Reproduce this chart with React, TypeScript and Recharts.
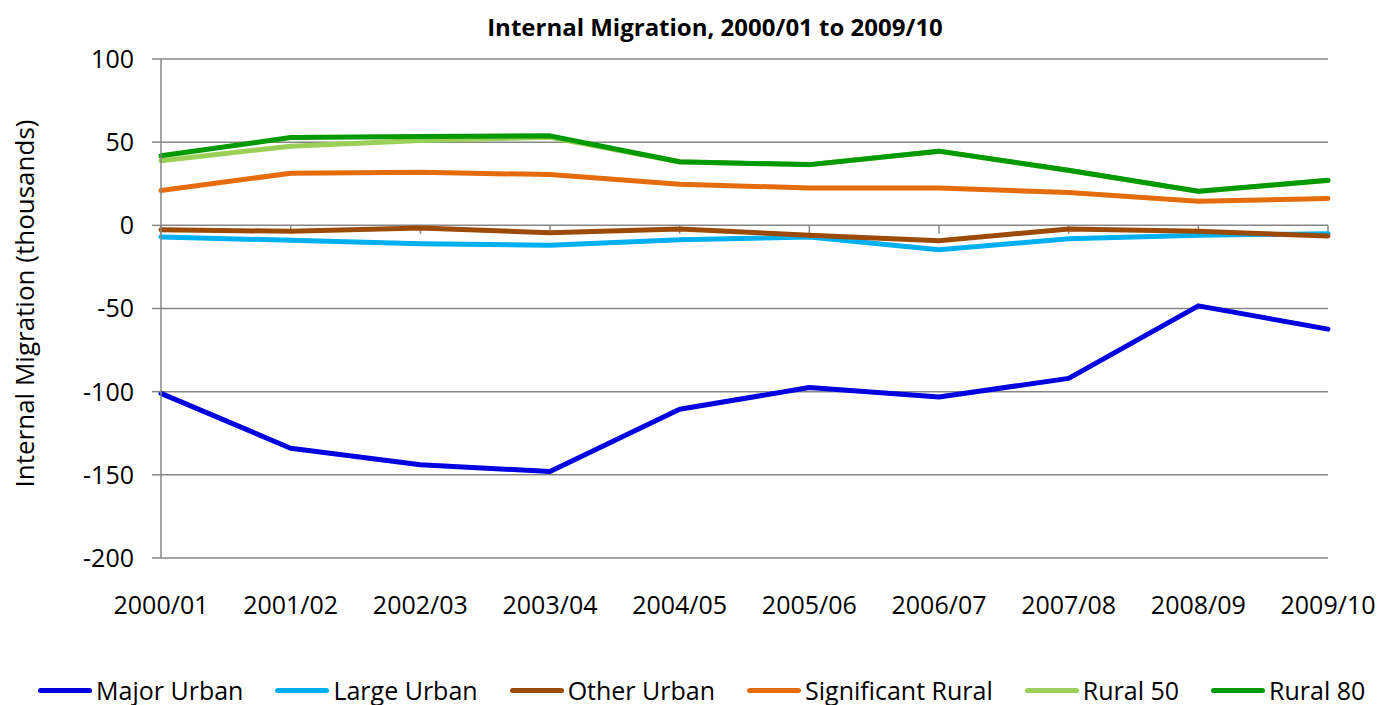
import { LineChart, Line, XAxis, YAxis, CartesianGrid, Legend, ReferenceLine } from 'recharts'

const years = ['2000/01', '2001/02', '2002/03', '2003/04', '2004/05', '2005/06', '2006/07', '2007/08', '2008/09', '2009/10']

const majorUrban = [-101, -134, -144, -148, -110.6, -97.5, -103.2, -92, -48.4, -62.4]
const largeUrban = [-7, -9, -11, -12, -8.6, -7, -14.7, -8, -6, -5]
const otherUrban = [-2.6, -3.6, -1.6, -4.4, -2.2, -6, -9.2, -2.2, -3.6, -6.4]
const significantRural = [21, 31.3, 31.9, 30.5, 24.7, 22.5, 22.5, 19.7, 14.5, 16.1]
const rural50 = [38.8, 47.6, 51, 53, 38.1, 36.4, 44.5, 33, 20.4, 27]
const rural80 = [41.8, 52.8, 53.4, 53.8, 38.2, 36.5, 44.6, 33.1, 20.5, 27.1]

const yTicks = [-200, -150, -100, -50, 0, 50, 100]

const series = [
  { key: 'major', name: 'Major Urban', color: '#0000e0', values: majorUrban },
  { key: 'large', name: 'Large Urban', color: '#00b0f0', values: largeUrban },
  { key: 'other', name: 'Other Urban', color: '#9c4a08', values: otherUrban },
  { key: 'sig', name: 'Significant Rural', color: '#e46c0a', values: significantRural },
  { key: 'r50', name: 'Rural 50', color: '#9bd058', values: rural50 },
  { key: 'r80', name: 'Rural 80', color: '#009900', values: rural80 },
]

const rows = years.map((y, i) => {
  const row: Record<string, string | number> = { year: y }
  series.forEach(s => { row[s.key] = s.values[i] })
  return row
})

const font = '"Open Sans", sans-serif'
const grey = '#868686'

function LegendRow() {
  return (
    <div style={{ display: 'flex', alignItems: 'center', paddingLeft: 38, fontFamily: font, fontSize: 25, color: '#000', height: 36 }}>
      {series.map(s => (
        <div key={s.key} style={{ display: 'flex', alignItems: 'center', marginRight: 32 }}>
          <div style={{ width: 54, height: 5, borderRadius: 3, background: s.color, marginRight: 4 }} />
          <span style={{ whiteSpace: 'nowrap' }}>{s.name}</span>
        </div>
      ))}
    </div>
  )
}

export default function App() {
  return (
    <div style={{ position: 'absolute', left: 0, top: 0, width: 1381, height: 705, background: '#fff' }}>
      <div style={{ position: 'absolute', left: 0, width: 1430, top: 10, textAlign: 'center', fontFamily: font, fontWeight: 700, fontSize: 24 }}>
        Internal Migration, 2000/01 to 2009/10
      </div>
      <LineChart width={1381} height={705} data={rows} margin={{ top: 59, right: 53, left: 0, bottom: 41 }}>
        <CartesianGrid vertical={false} stroke={grey} strokeWidth={1.5} />
        <XAxis dataKey="year" axisLine={false} tickLine={false} tickMargin={32} height={70}
          tick={{ fontFamily: font, fontSize: 25, fill: '#000' }} interval={0} />
        <YAxis domain={[-200, 100]} ticks={yTicks} width={161} tickSize={9} tickMargin={18}
          axisLine={{ stroke: grey, strokeWidth: 1.5 }} tickLine={{ stroke: grey, strokeWidth: 1.5 }}
          tick={{ fontFamily: font, fontSize: 25, fill: '#000' }}
          label={{ value: 'Internal Migration (thousands)', angle: -90, position: 'center', dx: -56, dy: -5, style: { fontFamily: font, fontSize: 26, fill: '#000' } }} />
        {years.map(y => (
          <ReferenceLine key={y} segment={[{ x: y, y: 0 }, { x: y, y: -5 }]} stroke={grey} strokeWidth={1.5} ifOverflow="visible" />
        ))}
        {series.map(s => (
          <Line key={s.key} dataKey={s.key} name={s.name} stroke={s.color} strokeWidth={5} dot={false} activeDot={false}
            strokeLinecap="round" strokeLinejoin="round" isAnimationActive={false} />
        ))}
        <Legend verticalAlign="bottom" content={() => <LegendRow />}
          wrapperStyle={{ position: 'absolute', top: 672, left: 0, width: 1381, height: 36 }} />
      </LineChart>
    </div>
  )
}
